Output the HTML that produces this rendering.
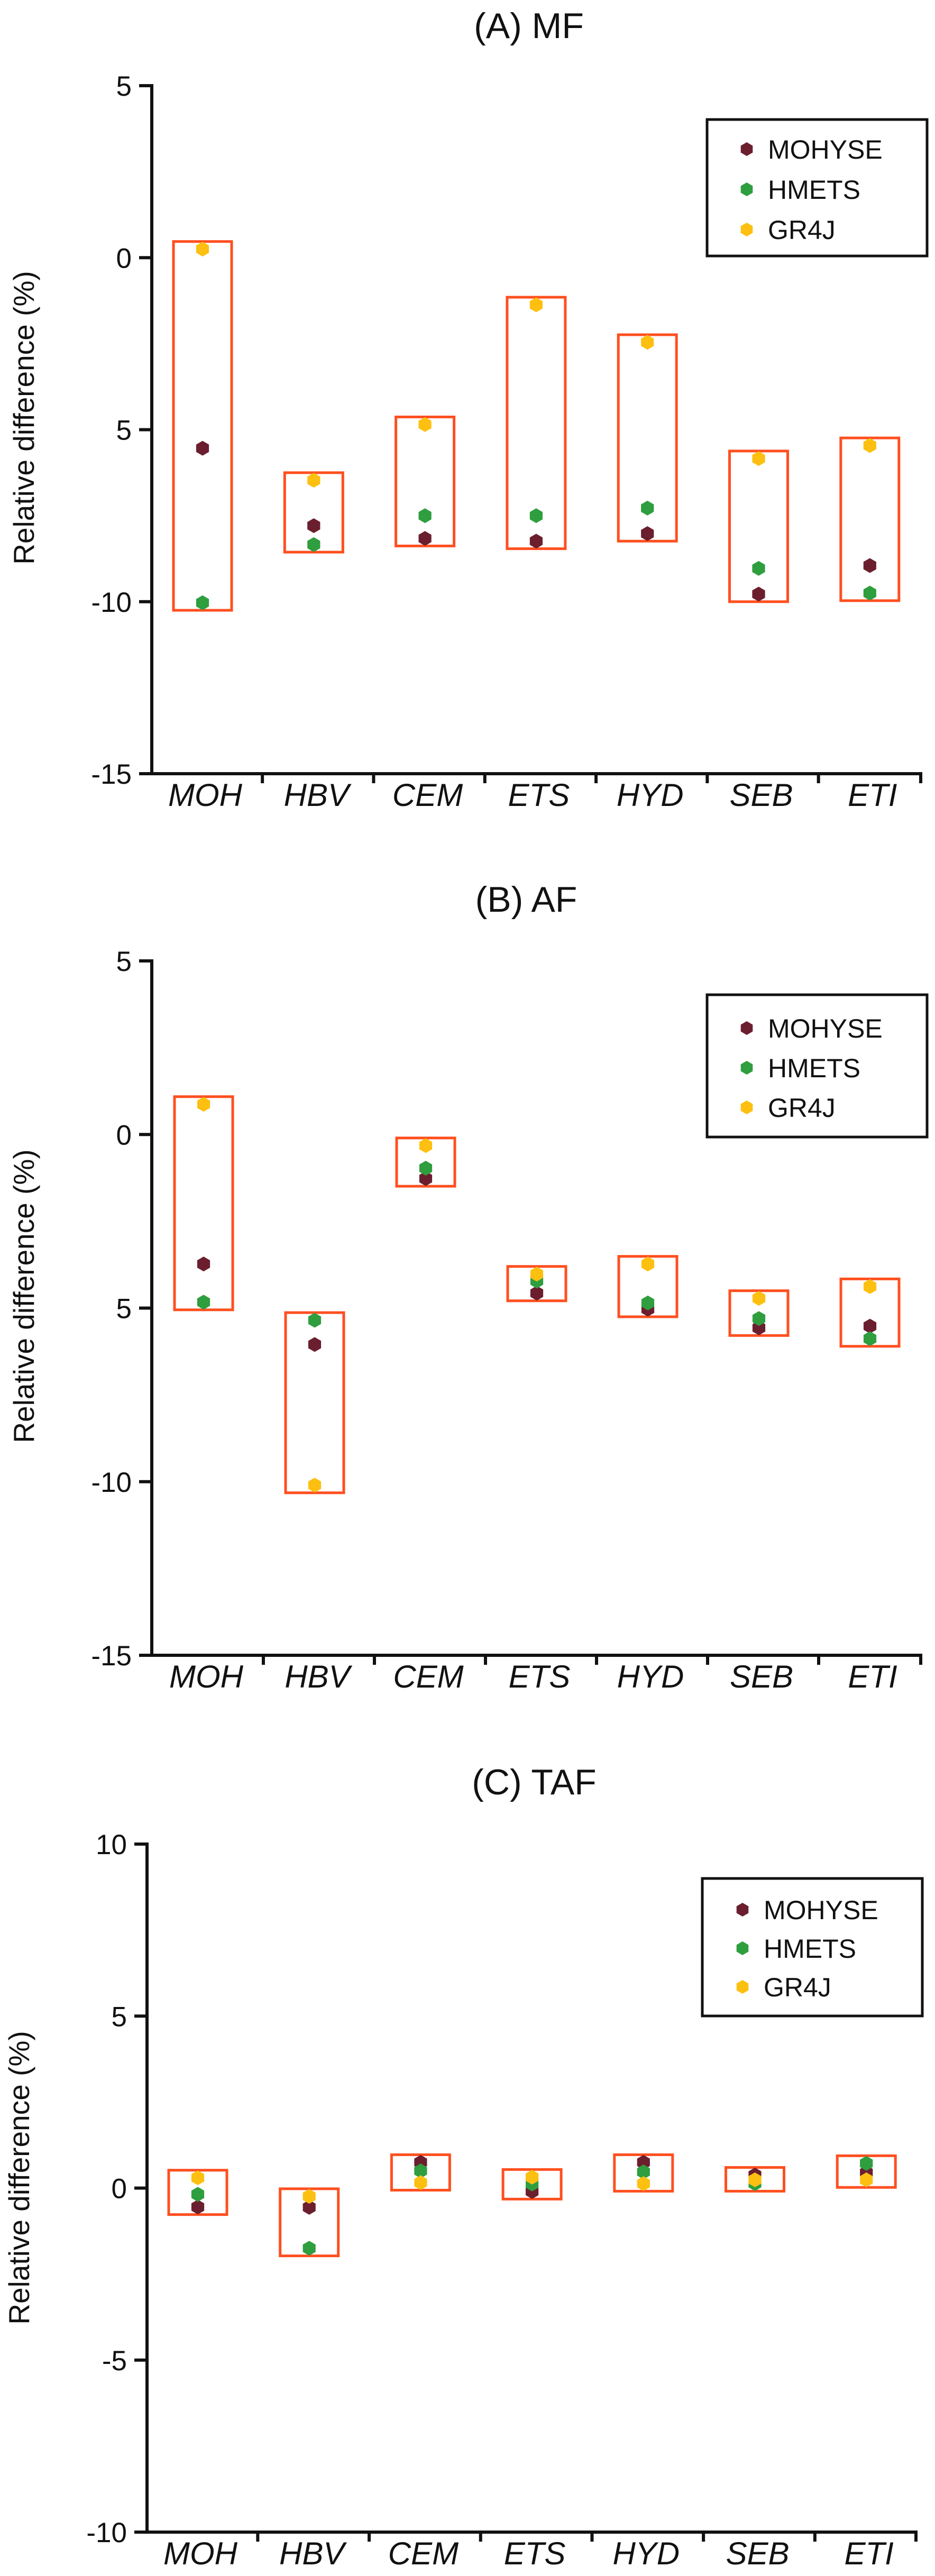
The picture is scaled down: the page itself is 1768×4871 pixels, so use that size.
<!DOCTYPE html>
<html><head><meta charset="utf-8"><style>
html,body{margin:0;padding:0;background:#fff;}
svg{display:block;font-family:"Liberation Sans",Arial,sans-serif;}
</style></head><body>
<svg id="chart" width="1768" height="4871" viewBox="0 0 1768 4871" xmlns="http://www.w3.org/2000/svg"></svg>
<script>
const categories = ["MOH","HBV","CEM","ETS","HYD","SEB","ETI"];
const seriesNames = ["MOHYSE","HMETS","GR4J"];
// Panel A (MF)
const mfMohyse = [-5.54,-7.79,-8.16,-8.24,-8.02,-9.78,-8.95];
const mfHmets  = [-10.03,-8.34,-7.50,-7.50,-7.28,-9.03,-9.75];
const mfGr4j   = [0.25,-6.47,-4.85,-1.37,-2.46,-5.84,-5.46];
const mfTicks = [5,0,-5,-10,-15];
const mfTickLabels = ["5","0","5","-10","-15"];
// Panel B (AF)
const afMohyse = [-3.73,-6.05,-1.27,-4.57,-5.03,-5.57,-5.52];
const afHmets  = [-4.83,-5.35,-0.97,-4.22,-4.85,-5.30,-5.88];
const afGr4j   = [0.87,-10.10,-0.32,-4.02,-3.73,-4.72,-4.38];
const afTicks = [5,0,-5,-10,-15];
const afTickLabels = ["5","0","5","-10","-15"];
// Panel C (TAF)
const tafMohyse = [-0.55,-0.56,0.75,-0.10,0.75,0.38,0.45];
const tafHmets  = [-0.18,-1.75,0.50,0.12,0.47,0.13,0.72];
const tafGr4j   = [0.30,-0.24,0.16,0.32,0.13,0.24,0.24];
const tafTicks = [10,5,0,-5,-10];
const tafTickLabels = ["10","5","0","-5","-10"];

const NS="http://www.w3.org/2000/svg";
const svg=document.getElementById('chart');
const colors=["#6b1f2e","#2e9e3e","#fdc010"];
function mk(tag,attrs,parent){const e=document.createElementNS(NS,tag);for(const k in attrs)e.setAttribute(k,attrs[k]);(parent||svg).appendChild(e);return e;}
function hex(cx,cy,r){let p=[];for(let i=0;i<6;i++){const a=Math.PI/180*(60*i-90);p.push((cx+r*Math.cos(a)).toFixed(1)+","+(cy+r*Math.sin(a)).toFixed(1));}return p.join(" ");}

function panel(cfg){
  const g=mk('g',{});
  
  
  const y=v=>cfg.y0+(cfg.vmax-v)*(cfg.y1-cfg.y0)/(cfg.vmax-cfg.vmin);
  const x=i=>cfg.cx0+i*cfg.step;
  const t=mk('text',{x:cfg.tx,y:cfg.ty,'font-size':68,'text-anchor':'middle',fill:'#111'},g);
  t.textContent=cfg.title;
  
  
  const yl=mk('text',{x:0,y:0,'font-size':55,'text-anchor':'middle',fill:'#111',transform:`translate(${cfg.ylx},${cfg.yly}) rotate(-90)`},g);
  yl.textContent="Relative difference (%)";
  
  
  // axes
  const ax=mk('line',{x1:cfg.ax,y1:cfg.y0-3,x2:cfg.ax,y2:cfg.y1+3,stroke:'#111','stroke-width':6},g);
  
  
  const xa=mk('line',{x1:cfg.ax-24,y1:cfg.y1,x2:cfg.xend,y2:cfg.y1,stroke:'#111','stroke-width':6},g);
  
  
  cfg.ticks.forEach((v,i)=>{
    const tk=mk('line',{x1:cfg.ax-24,y1:y(v),x2:cfg.ax,y2:y(v),stroke:'#111','stroke-width':6},g);
    
    
    const tl=mk('text',{x:cfg.ax-38,y:y(v)+19,'font-size':53,'text-anchor':'end',fill:'#111'},g);
    tl.textContent=cfg.tickLabels[i];
    
    
  });
  categories.forEach((c,i)=>{
    const sx=(i<categories.length-1)?(x(i)+x(i+1))/2+8:cfg.xend-3;
    const sp=mk('line',{x1:sx,y1:cfg.y1,x2:sx,y2:cfg.y1+18,stroke:'#111','stroke-width':6},g);
    
    
    const cl=mk('text',{x:x(i)+5,y:cfg.y1+61,'font-size':60,'font-style':'italic','text-anchor':'middle',fill:'#111'},g);
    cl.textContent=c;
    
    
    const vals=cfg.series.map(s=>s[i]);
    const hi=Math.max(...vals)+0.22, lo=Math.min(...vals)-0.22;
    const r=mk('rect',{x:x(i)-55,y:y(hi),width:110,height:y(lo)-y(hi),fill:'none',stroke:'#ff4f1f','stroke-width':5},g);
    
    
  });
  [0,1,2].forEach(s=>{
    cfg.series[s].forEach((v,i)=>{
      const p=mk('polygon',{points:hex(x(i),y(v),14),fill:colors[s]},g);
      
      
    });
  });
  // legend
  const lg=mk('g',{},g);
  
  
  const lr=mk('rect',{x:cfg.lx,y:cfg.ly,width:cfg.lw,height:cfg.lh,fill:'#fff',stroke:'#111','stroke-width':5},lg);
  
  
  seriesNames.forEach((n,k)=>{
    const my=cfg.ly+cfg.lfirst+k*cfg.lgap;
    const m=mk('polygon',{points:hex(cfg.lx+cfg.lmx,my,13),fill:colors[k]},lg);
    
    
    const lt=mk('text',{x:cfg.lx+cfg.lmx+40,y:my+18,'font-size':50,fill:'#111'},lg);
    lt.textContent=n;
    
    
  });
}

panel({id:'mf',title:'(A) MF',tx:1000,ty:72,ylx:64,yly:790,ax:287,xend:1744,y0:162,y1:1463,vmax:5,vmin:-15,
  cx0:383,step:210.3,ticks:mfTicks,tickLabels:mfTickLabels,series:[mfMohyse,mfHmets,mfGr4j],
  lx:1337,ly:226,lw:416,lh:258,lfirst:56,lgap:76,lmx:75});
panel({id:'af',title:'(B) AF',tx:995,ty:1724,ylx:64,yly:2451,ax:287,xend:1744,y0:1817,y1:3130,vmax:5,vmin:-15,
  cx0:385,step:210,ticks:afTicks,tickLabels:afTickLabels,series:[afMohyse,afHmets,afGr4j],
  lx:1337,ly:1881,lw:416,lh:269,lfirst:63,lgap:75,lmx:75});
panel({id:'taf',title:'(C) TAF',tx:1010,ty:3393,ylx:55,yly:4118,ax:278,xend:1735,y0:3487,y1:4788,vmax:10,vmin:-10,
  cx0:374,step:210.7,ticks:tafTicks,tickLabels:tafTickLabels,series:[tafMohyse,tafHmets,tafGr4j],
  lx:1328,ly:3552,lw:416,lh:260,lfirst:59,lgap:73,lmx:76});
</script>
</body></html>
